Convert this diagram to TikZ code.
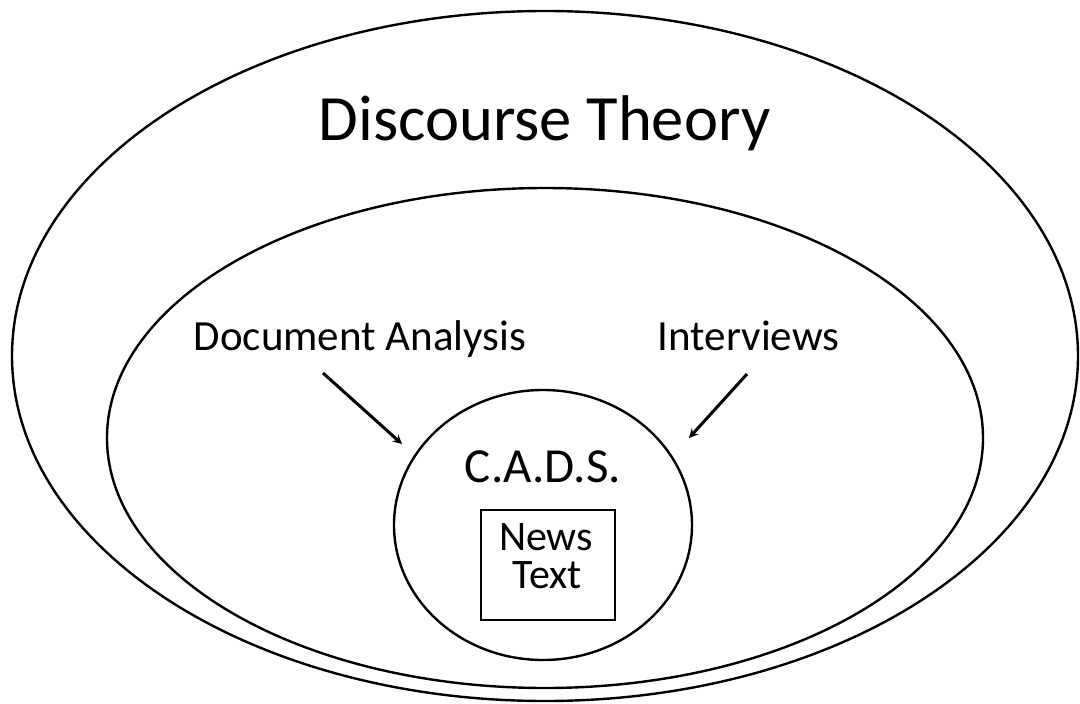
\documentclass[tikz,border=0pt]{standalone}
\usepackage{fontspec}
\setmainfont{Carlito}
\usetikzlibrary{shapes.geometric}

\tikzset{
  ring/.style={draw,ellipse,line width=2.4pt,inner sep=0pt},
  words/.style={anchor=base,inner sep=0pt},
  feed/.style={->,line width=3pt}
}

\begin{document}
\begin{tikzpicture}[>=stealth,x=1pt,y=-1pt]
    \useasboundingbox (0,0) rectangle (1080,704);
    \node[ring,minimum width=1066pt,minimum height=690pt] (theory) at (545,356) {};
    \node[ring,minimum width=876pt,minimum height=500pt] (method) at (545,438) {};
    \node[ring,minimum width=298pt,minimum height=270pt] (cads) at (543,525) {};
    \node[words,font=\fontsize{64.6}{70}\selectfont] (title) at (544.5,140) {Discourse Theory};
    \node[words,font=\fontsize{43}{48}\selectfont] (docan) at (360,350) {Document Analysis};
    \node[words,font=\fontsize{43}{48}\selectfont] (interv) at (748.5,350) {Interviews};
    \node[words,font=\fontsize{49}{54}\selectfont] (cadslbl) at (543,482) {C.A.D.S.};
    \node[draw,line width=2.4pt,minimum width=134pt,minimum height=110pt,inner sep=0pt] (newsbox) at (548,565) {};
    \node[words,font=\fontsize{42}{46}\selectfont] (news) at (546,550) {News};
    \node[words,font=\fontsize{42}{46}\selectfont] (text) at (547,588) {Text};
    \coordinate (da-tail) at (323,373);
    \coordinate (da-head) at (402,444);
    \coordinate (iv-tail) at (747,374);
    \coordinate (iv-head) at (689,438);
    \draw[feed] (da-tail) -- (da-head);
    \draw[feed] (iv-tail) -- (iv-head);
\end{tikzpicture}
\end{document}
